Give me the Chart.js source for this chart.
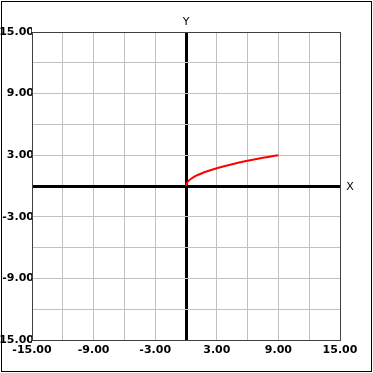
<!DOCTYPE html>
<html>
<head>
<meta charset="utf-8">
<script src="https://cdn.jsdelivr.net/npm/chart.js@4"></script>
<style>
  html, body { margin: 0; padding: 0; background: #fff; }
  #wrap { width: 373px; height: 373px; }
</style>
</head>
<body>
<div id="wrap"><canvas id="grafico" width="373" height="373"></canvas></div>
<script>
// valores
var curvaX = [0, 0.1, 0.25, 0.5, 1, 1.5, 2, 3, 4, 5, 6, 7, 8, 9];
var curvaY = [0, 0.32, 0.5, 0.71, 1, 1.22, 1.41, 1.73, 2, 2.24, 2.45, 2.65, 2.83, 3];
var ejeMin = -15, ejeMax = 15, paso = 3;
var marcas = [-15, -9, -3, 3, 9, 15];
var nombreEjeX = "X", nombreEjeY = "Y";

function etiqueta(v) {
    return marcas.indexOf(v) >= 0 ? v.toFixed(2) : "";
}

// marco, borde del area y nombres de los ejes
var extras = {
    id: "extras",
    afterDraw: function(chart) {
        var c = chart.ctx, a = chart.chartArea;
        var sx = chart.scales.x, sy = chart.scales.y;
        c.save();
        c.strokeStyle = "#404040";
        c.lineWidth = 1;
        c.strokeRect(a.left + 0.5, a.top + 0.5, a.right - a.left, a.bottom - a.top);
        c.strokeStyle = "#000";
        c.strokeRect(1.5, 1.5, 370, 370);
        c.fillStyle = "#000";
        c.font = "11px 'DejaVu Sans'";
        c.textAlign = "center";
        c.textBaseline = "middle";
        c.fillText(nombreEjeX, a.right + 10, sy.getPixelForValue(0) + 1);
        c.fillText(nombreEjeY, sx.getPixelForValue(0), a.top - 10);
        c.restore();
    }
};

function colorGrilla(ctx) { return ctx.tick.value === 0 ? "#000" : "#c0c0c0"; }
function anchoGrilla(ctx) { return ctx.tick.value === 0 ? 3 : 1; }

new Chart(document.getElementById("grafico"), {
    type: "scatter",
    data: {
        datasets: [{
            data: curvaX.map(function(x, i) { return {x: x, y: curvaY[i]}; }),
            showLine: true,
            borderColor: "#ff0000",
            borderWidth: 2,
            pointRadius: 0,
            tension: 0.3,
            fill: false
        }]
    },
    options: {
        responsive: false,
        animation: false,
        layout: { padding: { left: 0, top: 32, right: 33, bottom: 0 } },
        plugins: { legend: { display: false }, tooltip: { enabled: false } },
        scales: {
            x: {
                type: "linear", min: ejeMin, max: ejeMax,
                afterFit: function(s) { s.height = 33; },
                border: { display: false },
                grid: { color: colorGrilla, lineWidth: anchoGrilla, drawTicks: false },
                ticks: {
                    stepSize: paso, autoSkip: false, maxRotation: 0, padding: 4,
                    color: "#000", font: { family: "DejaVu Sans", size: 11, weight: "bold" },
                    callback: etiqueta
                }
            },
            y: {
                type: "linear", min: ejeMin, max: ejeMax,
                afterFit: function(s) { s.width = 32; },
                border: { display: false },
                grid: { color: colorGrilla, lineWidth: anchoGrilla, drawTicks: false },
                ticks: {
                    stepSize: paso, autoSkip: false, padding: -2,
                    color: "#000", font: { family: "DejaVu Sans", size: 11, weight: "bold" },
                    callback: etiqueta
                }
            }
        }
    },
    plugins: [extras]
});
</script>
</body>
</html>
